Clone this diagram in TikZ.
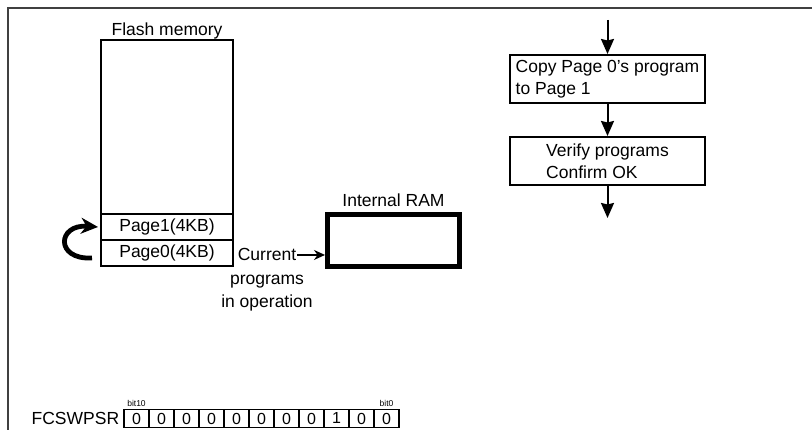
\documentclass[tikz,border=0pt]{standalone}
\usepackage{fontspec}
\setmainfont{Liberation Sans}
\usetikzlibrary{arrows.meta, positioning}

\begin{document}
\begin{tikzpicture}[x=1pt, y=1pt, font=\fontsize{17.5}{22}\selectfont,
        page/.style={draw, line width=1.5pt, minimum width=132pt, minimum height=26pt, inner sep=0pt, outer sep=0pt},
        flowbox/.style={draw, line width=2pt, minimum width=195pt, minimum height=48pt, align=left, inner sep=0pt},
        flow/.style={line width=2pt, -{Stealth[length=15pt, width=13pt, inset=1.5pt]}},
        cell/.style={draw, line width=1.3pt, minimum width=25pt, minimum height=18pt, inner sep=0pt, font=\fontsize{16}{16}\selectfont},
        bitlbl/.style={inner sep=2pt, font=\fontsize{8.5}{8.5}\selectfont}]
        \useasboundingbox (0,0) rectangle (812,430);

        % Frame
        \draw[line width=2pt, black!75] (8,0) |- (812,422);

        % Flash memory
        \node[page] (page0) at (167,177) {Page0(4KB)};
        \node[page, above=0pt of page0] (page1) {Page1(4KB)};
        \node[page, minimum height=174pt, above=0pt of page1] (flash) {};
        \node[above=0pt of flash, inner sep=1pt] (flashlbl) {Flash memory};

        % Page 0 -> Page 1
        \coordinate (curl) at (92,172);
        \draw[line width=4.8pt, -{Stealth[length=17pt, width=16pt]}] (curl) .. controls (55,170) and (57,206) .. ([xshift=-3pt]page1.west);

        % Current programs -> Internal RAM
        \node[anchor=base, inner sep=1pt] (cur) at (267,169) {Current};
        \node[anchor=base, inner sep=1pt] (prog) at (267,145.5) {programs};
        \node[anchor=base, inner sep=1pt] (oper) at (267,122) {in operation};
        \node[draw, line width=5pt, minimum width=132pt, minimum height=52pt] (ram) at (393.5,189.5) {};
        \node[above=4pt of ram, inner sep=1pt] (ramlbl) {Internal RAM};
        \draw[line width=1.5pt, -{Stealth[length=11pt, width=10pt]}] (cur.east) -- (ram.west |- cur.east);

        % Flow
        \coordinate (flowin) at (607.5,410);
        \node[flowbox] (copy) at (607.5,351) {Copy Page 0's program\\to Page 1};
        \node[flowbox, below=32pt of copy] (verify) {Verify programs\\Confirm OK};
        \coordinate (flowout) at (607.5,212);
        \draw[flow] (flowin) -- (copy);
        \draw[flow] (copy) -- (verify);
        \draw[flow] (verify) -- (flowout);

        % Register
        \foreach \b [count=\i from 0] in {0,0,0,0,0,0,0,0,1,0,0}
            \node[cell] (cell\i) at ({136.5+25*\i},11.5) {\b};
        \node[left=3pt of cell0, inner sep=1pt] (regname) {FCSWPSR};
        \node[bitlbl, above=0pt of cell0] (bithi) {bit10};
        \node[bitlbl, above=0pt of cell10] (bitlo) {bit0};
    \end{tikzpicture}
\end{document}
